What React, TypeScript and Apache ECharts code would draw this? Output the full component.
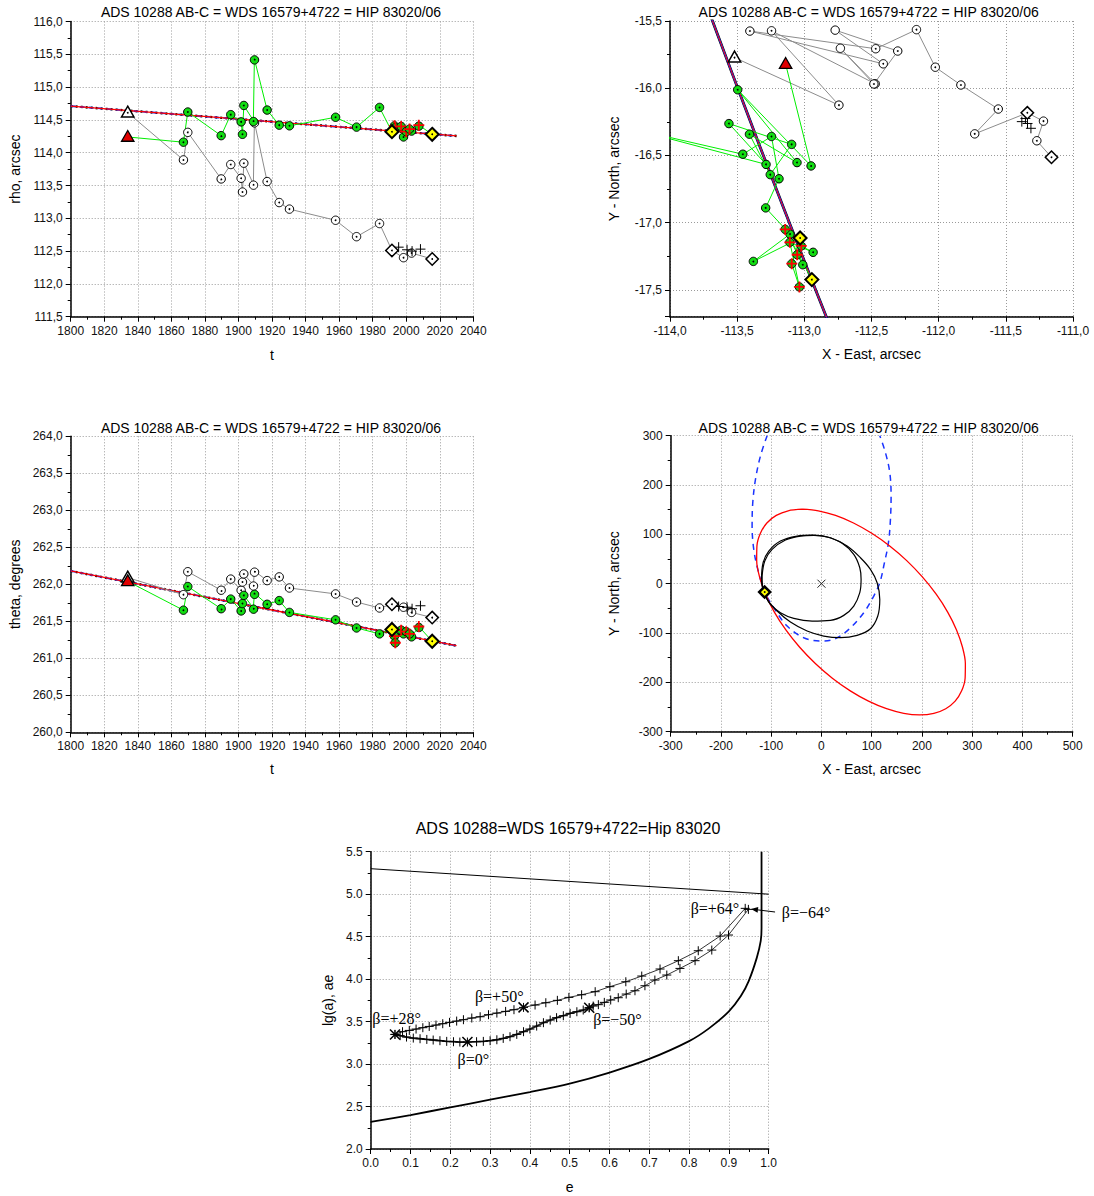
import React, { useEffect, useRef } from "react";
import * as echarts from "echarts";

const FONT = "'Liberation Sans', Arial, Helvetica, sans-serif";
const SERIF = "'Liberation Serif', 'Times New Roman', serif";

const TITLE_TOP = "ADS 10288 AB-C = WDS 16579+4722 = HIP 83020/06";
const TITLE_BOTTOM = "ADS 10288=WDS 16579+4722=Hip 83020";

// ---------- rho / theta measurements ----------
const fitT = [1800, 2030];
const fitRho = [114.71, 114.255];
const fitTheta = [262.18, 261.17];

const triangleT = [1834];
const whiteTriRho = [114.61];
const whiteTriTheta = [262.09];
const redTriRho = [114.24];
const redTriTheta = [262.04];

const obsT = [1867.2, 1869.8, 1889.7, 1895.4, 1901.6, 1902.4, 1903.2, 1908.9, 1909.5, 1917.1, 1924.3, 1930.4, 1957.9, 1970.4, 1984.1, 1998.4, 2003.2];
const openRho = [113.89, 114.31, 113.6, 113.82, 113.61, 113.4, 113.84, 113.52, 114.47, 113.56, 113.24, 113.14, 112.97, 112.72, 112.92, 112.4, 112.47];
const openTheta = [261.86, 262.17, 261.92, 262.07, 261.92, 262.03, 262.14, 261.99, 262.18, 262.05, 262.1, 261.95, 261.87, 261.76, 261.68, 261.69, 261.62];
const greenRho = [114.16, 114.62, 114.26, 114.58, 114.47, 114.28, 114.72, 114.49, 115.43, 114.65, 114.42, 114.41, 114.54, 114.39, 114.69, 114.24, 114.33];
const greenTheta = [261.65, 261.97, 261.67, 261.8, 261.64, 261.74, 261.85, 261.68, 261.88, 261.73, 261.78, 261.62, 261.52, 261.41, 261.33, 261.33, 261.29];

const clusterT = [1993.0, 1993.5, 1997.0, 2000.0, 2002.0, 2007.5];
const clusterRho = [114.41, 114.38, 114.4, 114.32, 114.36, 114.42];
const clusterTheta = [261.3, 261.21, 261.38, 261.36, 261.33, 261.43];

const yellowT = [1991.5, 2015.5];
const yellowRho = [114.32, 114.28];
const yellowTheta = [261.39, 261.23];

const diamondT = [1991.5, 2015.5];
const diamondRho = [112.51, 112.38];
const diamondTheta = [261.73, 261.55];

const plusT = [1995.5, 2000.5, 2003.5, 2008.5];
const plusRho = [112.56, 112.52, 112.5, 112.53];
const plusTheta = [261.7, 261.69, 261.67, 261.71];

// epochs at which the (linear in t) fit is placed in the XY plane
const fitSampleT = [1770, 1800, 1850, 1900, 1950, 2000, 2030, 2070];

// ---------- orbit panel (X, Y arcsec) ----------
const redOrbit = [[-38.0, 151.0], [-6.3, 147.8], [28.0, 138.4], [63.8, 123.1], [100.1, 102.2], [135.8, 76.5], [169.7, 46.8], [200.8, 13.8], [228.3, -21.3], [251.2, -57.5], [268.8, -93.7], [280.7, -128.8], [286.4, -161.8], [285.9, -191.5], [279.0, -217.2], [266.1, -238.1], [247.4, -253.4], [223.7, -262.8], [195.5, -266.0], [163.8, -262.8], [129.5, -253.4], [93.7, -238.1], [57.4, -217.2], [21.7, -191.5], [-12.2, -161.8], [-43.3, -128.8], [-70.8, -93.7], [-93.7, -57.5], [-111.3, -21.3], [-123.2, 13.8], [-128.9, 46.8], [-128.4, 76.5], [-121.5, 102.2], [-108.6, 123.1], [-89.9, 138.4], [-66.2, 147.8], [-38.0, 151.0]];
const blueOrbit = [[-108.1, 300], [-121.4, 258.8], [-131.3, 211.5], [-136.7, 164.2], [-138.0, 116.9], [-134.7, 69.6], [-126.7, 29.1], [-112.8, -16.9], [-94.9, -48.6], [-68.3, -85.8], [-35.2, -109.5], [-2.0, -116.2], [24.5, -112.8], [54.4, -92.6], [84.2, -58.8], [104.1, -25.0], [116.1, 2.0], [125.4, 42.6], [133.3, 83.1], [137.3, 130.4], [138.6, 177.7], [136.0, 225.0], [127.4, 265.5], [116.1, 300]];
const blackOrbit1 = [[-119.4, 8.8], [-116.1, 42.6], [-104.8, 66.2], [-81.6, 86.5], [-48.4, 96.6], [-18.6, 98.6], [11.3, 94.6], [41.1, 81.8], [64.3, 59.5], [76.3, 32.4], [78.9, 8.8], [76.3, -18.2], [64.3, -45.3], [44.4, -64.2], [17.9, -74.3], [-18.6, -75.7], [-55.1, -70.3], [-81.6, -58.8], [-101.5, -41.9], [-112.8, -21.6], [-118.1, -4.7], [-119.4, 8.8]];
const blackOrbit2 = [[-118.1, 15.5], [-112.8, 45.9], [-98.2, 69.6], [-71.6, 88.5], [-41.8, 96.6], [-15.3, 98.0], [17.9, 93.2], [51.1, 76.4], [77.6, 52.7], [97.5, 29.1], [110.8, 2.0], [116.1, -31.8], [112.1, -65.5], [97.5, -91.2], [71.0, -104.7], [37.8, -109.5], [4.6, -106.1], [-28.5, -95.9], [-61.7, -77.7], [-88.2, -55.4], [-108.1, -31.8], [-116.7, -8.1], [-118.1, 15.5]];
const orbitPointX = [-113.0];
const orbitPointY = [-17.0];
const orbitCentreX = [0];
const orbitCentreY = [0];

// ---------- lg(a) vs e panel ----------
const topLineE = [0, 1.0];
const topLineLg = [5.3, 5.0];
const lowCurveE = [0, 0.1, 0.2, 0.3, 0.4, 0.5, 0.6, 0.7, 0.8, 0.85, 0.9, 0.93, 0.95, 0.97, 0.98, 0.982, 0.982];
const lowCurveLg = [2.32, 2.4, 2.49, 2.58, 2.67, 2.77, 2.9, 3.06, 3.27, 3.42, 3.62, 3.8, 3.98, 4.25, 4.45, 4.6, 5.5];

const upperE = [0.061, 0.08, 0.097, 0.114, 0.131, 0.147, 0.164, 0.181, 0.198, 0.216, 0.233, 0.254, 0.275, 0.296, 0.317, 0.339, 0.36, 0.384, 0.413, 0.44, 0.469, 0.498, 0.53, 0.564, 0.601, 0.641, 0.681, 0.727, 0.773, 0.823, 0.878, 0.941];
const upperLg = [3.349, 3.381, 3.396, 3.412, 3.428, 3.443, 3.459, 3.475, 3.491, 3.506, 3.522, 3.542, 3.557, 3.581, 3.6, 3.62, 3.64, 3.667, 3.695, 3.722, 3.75, 3.785, 3.816, 3.852, 3.911, 3.969, 4.036, 4.119, 4.217, 4.334, 4.507, 4.833];
const lowerRightE = [0.949, 0.899, 0.857, 0.815, 0.777, 0.744, 0.714, 0.689, 0.664, 0.642, 0.622, 0.603, 0.587, 0.572, 0.559, 0.549];
const lowerRightLg = [4.821, 4.519, 4.342, 4.217, 4.126, 4.048, 3.989, 3.922, 3.863, 3.824, 3.781, 3.754, 3.726, 3.699, 3.683, 3.663];
const lowerLeftE = [0.549, 0.534, 0.518, 0.501, 0.484, 0.467, 0.451, 0.434, 0.417, 0.4, 0.384, 0.367, 0.35, 0.333, 0.317, 0.3, 0.283, 0.266, 0.243, 0.224, 0.208, 0.191, 0.174, 0.157, 0.141, 0.124, 0.107, 0.09, 0.074, 0.061];
const lowerLeftLg = [3.663, 3.636, 3.616, 3.597, 3.569, 3.546, 3.518, 3.487, 3.447, 3.412, 3.381, 3.349, 3.322, 3.302, 3.286, 3.275, 3.267, 3.263, 3.259, 3.259, 3.263, 3.267, 3.275, 3.283, 3.29, 3.298, 3.306, 3.318, 3.334, 3.349];
const betaCrossE = [0.061, 0.384, 0.549, 0.243];
const betaCrossLg = [3.349, 3.667, 3.663, 3.259];
const betaLabelText = ["β=+28°", "β=+50°", "β=0°", "β=−50°", "β=+64°", "β=−64°"];
const betaLabelE = [0.065, 0.323, 0.258, 0.62, 0.865, 1.094];
const betaLabelLg = [3.539, 3.793, 3.048, 3.519, 4.834, 4.79];
const arrowFrom = [1.016, 4.79];
const arrowTo = [0.9555, 4.825];

// ---------- helpers ----------
type Rec = { t: number; rho: number; theta: number };
const recs = (t: number[], r: number[], th: number[]): Rec[] => t.map((v, i) => ({ t: v, rho: r[i], theta: th[i] }));
const D2R = Math.PI / 180;
const toXY = (r: Rec) => [r.rho * Math.sin(r.theta * D2R), r.rho * Math.cos(r.theta * D2R)];
const byT = (a: Rec, b: Rec) => a.t - b.t;
const fitAt = (t: number): Rec => {
  const f = (t - fitT[0]) / (fitT[1] - fitT[0]);
  return { t, rho: fitRho[0] + f * (fitRho[1] - fitRho[0]), theta: fitTheta[0] + f * (fitTheta[1] - fitTheta[0]) };
};
const zip = (a: number[], b: number[]) => a.map((v, i) => [v, b[i]]);

const openRecs = recs(obsT, openRho, openTheta);
const greenRecs = recs(obsT, greenRho, greenTheta);
const clusterRecs = recs(clusterT, clusterRho, clusterTheta);
const yellowRecs = recs(yellowT, yellowRho, yellowTheta);
const diamondRecs = recs(diamondT, diamondRho, diamondTheta);
const plusRecs = recs(plusT, plusRho, plusTheta);
const whiteTriRecs = recs(triangleT, whiteTriRho, whiteTriTheta);
const redTriRecs = recs(triangleT, redTriRho, redTriTheta);
const grayPath = [...whiteTriRecs, ...openRecs, ...diamondRecs].sort(byT);
const greenPath = [...redTriRecs, ...greenRecs, ...clusterRecs, ...yellowRecs].sort(byT);
const fitRecs = fitT.map(fitAt);
const fitXY = fitSampleT.map((t) => toXY(fitAt(t)));

function markerRender(kind: string) {
  return (params: any, api: any) => {
    const p = api.coord([api.value(0), api.value(1)]);
    const x = p[0];
    const y = p[1];
    const ch: any[] = [];
    const circle = (r: number, fill: string, stroke: string, lw: number) => ({ type: "circle", shape: { cx: x, cy: y, r }, style: { fill, stroke, lineWidth: lw } });
    const dot = () => ({ type: "circle", shape: { cx: x, cy: y, r: 0.9 }, style: { fill: "#000" } });
    const seg = (x1: number, y1: number, x2: number, y2: number, stroke: string, lw: number) => ({ type: "line", shape: { x1: x + x1, y1: y + y1, x2: x + x2, y2: y + y2 }, style: { stroke, lineWidth: lw, fill: null } });
    const poly = (pts: number[][], fill: string, stroke: string, lw: number) => ({ type: "polygon", shape: { points: pts.map((q) => [x + q[0], y + q[1]]) }, style: { fill, stroke, lineWidth: lw, lineJoin: "miter" } });
    const tri = [[0, -6.5], [6.2, 4.3], [-6.2, 4.3]];
    const dia = (s: number) => [[0, -s], [s, 0], [0, s], [-s, 0]];
    switch (kind) {
      case "open":
        ch.push(circle(4.2, "#ffffff", "#000", 1), dot());
        break;
      case "green":
        ch.push(circle(4.2, "#11dd11", "#000", 1), dot());
        break;
      case "rg":
        ch.push(circle(4.2, "#11cc11", "#000", 1), seg(-5.5, 0, 5.5, 0, "#ff0000", 1.8), seg(0, -5.5, 0, 5.5, "#ff0000", 1.8));
        break;
      case "wtri":
        ch.push(poly(tri, "#ffffff", "#000", 1.5), dot());
        break;
      case "rtri":
        ch.push(poly(tri, "#e00000", "#000", 1.3));
        break;
      case "ydia":
        ch.push(poly(dia(6.5), "#ffff00", "#000", 2), dot());
        break;
      case "wdia":
        ch.push(poly(dia(6.2), "#ffffff", "#000", 1.5), dot());
        break;
      case "plus":
        ch.push(seg(-5, 0, 5, 0, "#000", 1), seg(0, -5, 0, 5, "#000", 1));
        break;
      case "orbdia":
        ch.push(poly(dia(5.5), "#ffff00", "#000", 2.5), dot());
        break;
      case "xc":
        ch.push(seg(-4, -4, 4, 4, "#222", 1), seg(-4, 4, 4, -4, "#222", 1));
        break;
      case "p5plus":
        ch.push(seg(-4.5, 0, 4.5, 0, "#000", 1), seg(0, -4.5, 0, 4.5, "#000", 1));
        break;
      case "p5cross":
        ch.push(seg(-5, -5, 5, 5, "#000", 1.5), seg(-5, 5, 5, -5, "#000", 1.5));
        break;
    }
    return { type: "group", children: ch };
  };
}

const lineS = (ax: number, data: number[][], color: string, width: number, type: any, z: number, smooth: any = false) => ({
  type: "line",
  xAxisIndex: ax,
  yAxisIndex: ax,
  data,
  showSymbol: false,
  symbol: "none",
  smooth,
  clip: true,
  silent: true,
  z,
  lineStyle: { color, width, type },
});
const markS = (ax: number, data: number[][], kind: string, z: number, clip = true) => ({
  type: "custom",
  xAxisIndex: ax,
  yAxisIndex: ax,
  data,
  clip,
  silent: true,
  z,
  renderItem: markerRender(kind),
});

function measurementSeries(ax: number, val: (r: Rec) => number[], fit: number[][], xy: boolean) {
  const out: any[] = [];
  if (xy) {
    out.push(lineS(ax, fit, "#000", 2.8, "solid", 2));
    out.push(lineS(ax, fit, "#1a33ff", 1.9, "solid", 2));
    out.push(lineS(ax, fit, "#ff0000", 1.0, "solid", 2));
  } else {
    out.push(lineS(ax, fit, "#000", 2.4, [2, 3], 2));
    out.push(lineS(ax, fit, "#1a33ff", 1.8, [5, 4], 2));
    out.push(lineS(ax, fit, "#ff0000", 1.3, "solid", 2));
  }
  out.push(lineS(ax, grayPath.map(val), "#8c8c8c", 1, "solid", 3));
  out.push(lineS(ax, greenPath.map(val), "#00ee00", 1, "solid", 3));
  out.push(markS(ax, openRecs.map(val), "open", 4));
  out.push(markS(ax, greenRecs.map(val), "green", 4));
  out.push(markS(ax, clusterRecs.map(val), "rg", 4));
  out.push(markS(ax, plusRecs.map(val), "plus", 4));
  out.push(markS(ax, diamondRecs.map(val), "wdia", 5));
  out.push(markS(ax, yellowRecs.map(val), "ydia", 5));
  out.push(markS(ax, whiteTriRecs.map(val), "wtri", 5));
  out.push(markS(ax, redTriRecs.map(val), "rtri", 5));
  return out;
}

const comma1 = (v: number) => v.toFixed(1).replace(".", ",");
const dot1 = (v: number) => v.toFixed(1);
const int0 = (v: number) => String(Math.round(v));
const halfComma = (v: number) => (Math.abs(v * 2 - Math.round(v * 2)) < 1e-6 ? comma1(v) : "");

function axis(grid: number, o: any) {
  const a: any = {
    type: "value",
    gridIndex: grid,
    min: o.min,
    max: o.max,
    axisLine: { show: true, onZero: false, lineStyle: { color: "#000", width: 1.5 } },
    axisTick: { show: true, length: 5, lineStyle: { color: "#000", width: 1 } },
    minorTick: { show: true, splitNumber: 2, length: 3, lineStyle: { color: "#000", width: 1 } },
    splitLine: { show: true, lineStyle: { color: "#9a9a9a", width: 1, type: [1, 2] } },
    minorSplitLine: { show: false },
    axisLabel: { color: "#111", fontSize: 12, fontFamily: FONT, margin: 8, formatter: o.fmt },
    name: o.name,
    nameLocation: "middle",
    nameGap: o.gap,
    nameTextStyle: { color: "#000", fontSize: 14, fontFamily: FONT },
  };
  if (o.interval !== undefined) a.interval = o.interval;
  if (o.splitNumber !== undefined) a.splitNumber = o.splitNumber;
  return a;
}

function buildOption() {
  const tRho = (r: Rec) => [r.t, r.rho];
  const tTheta = (r: Rec) => [r.t, r.theta];
  const loopE = [...upperE, ...lowerRightE];
  const loopLg = [...upperLg, ...lowerRightLg];
  const series: any[] = [
    ...measurementSeries(0, tRho, fitRecs.map(tRho), false),
    ...measurementSeries(1, toXY, fitXY, true),
    ...measurementSeries(2, tTheta, fitRecs.map(tTheta), false),
    lineS(3, blueOrbit, "#1a33ff", 1.5, [6, 5], 3, 0.35),
    lineS(3, redOrbit, "#ff0000", 1.3, "solid", 3, 0.3),
    lineS(3, blackOrbit2, "#000", 1.2, "solid", 3, 0.35),
    lineS(3, blackOrbit1, "#000", 1.2, "solid", 3, 0.35),
    markS(3, zip(orbitCentreX, orbitCentreY), "xc", 4),
    markS(3, zip(orbitPointX, orbitPointY), "orbdia", 5),
    lineS(4, zip(topLineE, topLineLg), "#000", 1, "solid", 3),
    lineS(4, zip(lowCurveE, lowCurveLg), "#000", 1.8, "solid", 3, 0.3),
    lineS(4, zip(loopE, loopLg), "#000", 0.8, "solid", 3),
    lineS(4, zip(lowerLeftE, lowerLeftLg), "#222", 1.8, "solid", 3),
    markS(4, zip(loopE, loopLg), "p5plus", 4),
    markS(4, zip(lowerLeftE, lowerLeftLg), "p5plus", 4),
    markS(4, zip(betaCrossE, betaCrossLg), "p5cross", 5),
    {
      type: "custom",
      xAxisIndex: 4,
      yAxisIndex: 4,
      data: [[arrowTo[0], arrowTo[1], arrowFrom[0], arrowFrom[1]]],
      clip: false,
      silent: true,
      z: 5,
      renderItem: (params: any, api: any) => {
        const a = api.coord([api.value(0), api.value(1)]);
        const b = api.coord([api.value(2), api.value(3)]);
        const dx = a[0] - b[0];
        const dy = a[1] - b[1];
        const len = Math.sqrt(dx * dx + dy * dy);
        const ux = dx / len;
        const uy = dy / len;
        const hl = 7;
        const hw = 2.8;
        const bx = a[0] - ux * hl;
        const by = a[1] - uy * hl;
        return {
          type: "group",
          children: [
            { type: "line", shape: { x1: b[0], y1: b[1], x2: bx, y2: by }, style: { stroke: "#000", lineWidth: 1 } },
            { type: "polygon", shape: { points: [[a[0], a[1]], [bx - uy * hw, by + ux * hw], [bx + uy * hw, by - ux * hw]] }, style: { fill: "#000" } },
          ],
        };
      },
    },
    {
      type: "custom",
      xAxisIndex: 4,
      yAxisIndex: 4,
      data: betaLabelText.map((s, i) => [betaLabelE[i], betaLabelLg[i], i]),
      clip: false,
      silent: true,
      z: 6,
      renderItem: (params: any, api: any) => {
        const p = api.coord([api.value(0), api.value(1)]);
        const idx = api.value(2);
        return {
          type: "text",
          x: p[0],
          y: p[1],
          style: { text: betaLabelText[idx], fontSize: 16, fontFamily: SERIF, fill: "#000", align: "center", verticalAlign: "middle" },
        };
      },
    },
  ];

  const titleText = (text: string, x: number, y: number, size: number) => ({
    type: "text",
    x,
    y,
    silent: true,
    style: { text, fontSize: size, fontFamily: FONT, fill: "#000", align: "center", verticalAlign: "middle" },
  });

  return {
    animation: false,
    backgroundColor: "#ffffff",
    grid: [
      { left: 70.7, top: 21.5, width: 402.6, height: 295.2, outerBoundsMode: "none", containLabel: false },
      { left: 670, top: 21, width: 403, height: 295.7, outerBoundsMode: "none", containLabel: false },
      { left: 70.7, top: 436.3, width: 402.6, height: 296, outerBoundsMode: "none", containLabel: false },
      { left: 670.7, top: 435.7, width: 402, height: 296, outerBoundsMode: "none", containLabel: false },
      { left: 370.7, top: 851.7, width: 398, height: 297.3, outerBoundsMode: "none", containLabel: false },
    ],
    xAxis: [
      axis(0, { min: 1800, max: 2040, interval: 20, fmt: int0, name: "t", gap: 31 }),
      axis(1, { min: -114, max: -111, interval: 0.5, fmt: comma1, name: "X - East, arcsec", gap: 30 }),
      axis(2, { min: 1800, max: 2040, interval: 20, fmt: int0, name: "t", gap: 30 }),
      axis(3, { min: -300, max: 500, interval: 100, fmt: int0, name: "X - East, arcsec", gap: 30 }),
      axis(4, { min: 0, max: 1, interval: 0.1, fmt: dot1, name: "e", gap: 31 }),
    ],
    yAxis: [
      axis(0, { min: 111.5, max: 116, interval: 0.5, fmt: comma1, name: "rho, arcsec", gap: 49 }),
      axis(1, { min: -17.7, max: -15.5, splitNumber: 4, fmt: halfComma, name: "Y - North, arcsec", gap: 49 }),
      axis(2, { min: 260, max: 264, interval: 0.5, fmt: comma1, name: "theta, degrees", gap: 49 }),
      axis(3, { min: -300, max: 300, interval: 100, fmt: int0, name: "Y - North, arcsec", gap: 50 }),
      axis(4, { min: 2, max: 5.5, interval: 0.5, fmt: dot1, name: "lg(a), ae", gap: 36 }),
    ],
    graphic: [
      titleText(TITLE_TOP, 271, 12, 14),
      titleText(TITLE_TOP, 868.7, 12, 14),
      titleText(TITLE_TOP, 271, 428, 14),
      titleText(TITLE_TOP, 868.7, 428, 14),
      titleText(TITLE_BOTTOM, 568, 828, 16),
    ],
    series,
  };
}

export default function App() {
  const ref = useRef<HTMLDivElement>(null);
  useEffect(() => {
    if (!ref.current) return;
    const chart = echarts.init(ref.current, undefined, { renderer: "svg" });
    chart.setOption(buildOption() as any);
    return () => chart.dispose();
  }, []);
  return <div ref={ref} style={{ position: "absolute", left: 0, top: 0, width: 1094, height: 1196, background: "#fff" }} />;
}
